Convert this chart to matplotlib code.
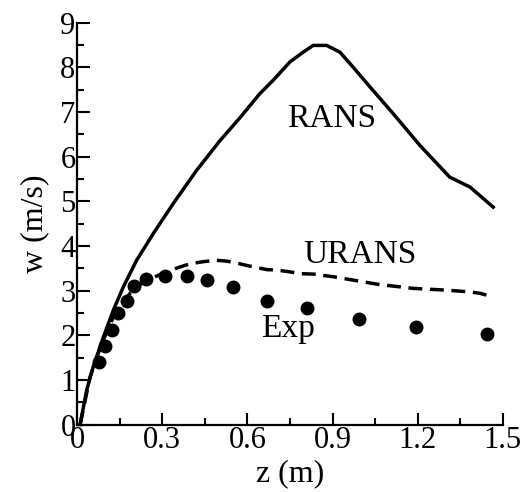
import matplotlib
matplotlib.use("Agg")
import matplotlib.pyplot as plt
from matplotlib.ticker import MultipleLocator, FuncFormatter

rans_z = [0.011, 0.034, 0.057, 0.093, 0.128, 0.163, 0.210, 0.269, 0.339, 0.421, 0.504,
          0.574, 0.644, 0.691, 0.750, 0.797, 0.832, 0.879, 0.926, 0.973, 1.032, 1.114,
          1.208, 1.313, 1.384, 1.466]
rans_w = [0.0, 0.77, 1.29, 1.96, 2.56, 3.08, 3.68, 4.28, 4.95, 5.69, 6.36,
          6.87, 7.41, 7.71, 8.12, 8.34, 8.49, 8.49, 8.34, 8.0, 7.56, 6.96,
          6.25, 5.54, 5.32, 4.87]

urans_z = [0.011, 0.046, 0.085, 0.128, 0.187, 0.233, 0.30, 0.363, 0.398, 0.447, 0.490,
           0.528, 0.560, 0.600, 0.668, 0.703, 0.750, 0.785, 0.832, 0.903, 0.996, 1.061,
           1.184, 1.302, 1.384, 1.419, 1.466]
urans_w = [0.0, 1.07, 1.78, 2.41, 2.94, 3.19, 3.38, 3.53, 3.60, 3.65, 3.68,
           3.66, 3.62, 3.56, 3.47, 3.46, 3.42, 3.38, 3.37, 3.31, 3.21, 3.14,
           3.05, 3.01, 2.97, 2.94, 2.86]

exp_z = [0.079, 0.099, 0.122, 0.146, 0.175, 0.201, 0.243, 0.310, 0.386, 0.457, 0.549,
         0.669, 0.811, 0.995, 1.194, 1.443]
exp_w = [1.40, 1.76, 2.11, 2.49, 2.76, 3.10, 3.25, 3.33, 3.33, 3.23, 3.08,
         2.77, 2.60, 2.36, 2.19, 2.02]

labels = [("RANS", 0.897, 6.66), ("URANS", 0.996, 3.61), ("Exp", 0.744, 1.96)]

plt.rcParams['font.family'] = ['Liberation Serif', 'DejaVu Serif']

fig = plt.figure(figsize=(5.31, 4.92), dpi=100)
ax = fig.add_axes([0.145, 0.137, 0.802, 0.817])

ax.plot(rans_z, rans_w, color='black', lw=2.5, clip_on=False, solid_joinstyle='round')
ax.plot(urans_z, urans_w, color='black', lw=2.5, dashes=(4, 2.2), clip_on=False)
ax.plot(exp_z, exp_w, 'o', color='black', ms=9, clip_on=False)

for t, x, y in labels:
    ax.text(x, y, t, fontsize=24, ha='center', va='baseline')

ax.set_xlim(0, 1.5)
ax.set_ylim(0, 9)
ax.xaxis.set_major_locator(MultipleLocator(0.3))
ax.xaxis.set_minor_locator(MultipleLocator(0.15))
ax.yaxis.set_major_locator(MultipleLocator(1))
ax.yaxis.set_minor_locator(MultipleLocator(0.5))
ax.xaxis.set_major_formatter(FuncFormatter(lambda v, p: "0" if abs(v) < 1e-9 else f"{v:.1f}"))
ax.yaxis.set_major_formatter(FuncFormatter(lambda v, p: f"{int(round(v))}"))

for s in ['top', 'right']:
    ax.spines[s].set_visible(False)
for s in ['left', 'bottom']:
    ax.spines[s].set_linewidth(1.6)

ax.tick_params(which='both', direction='in', width=1.5, labelsize=22)
ax.tick_params(axis='x', pad=1)
ax.tick_params(axis='y', pad=1)
ax.tick_params(which='major', length=9)
ax.tick_params(which='minor', length=5)

ax.set_xlabel("z (m)", fontsize=23, labelpad=3)
ax.set_ylabel("w (m/s)", fontsize=23, labelpad=8)

fig.savefig("out.png", dpi=100)
